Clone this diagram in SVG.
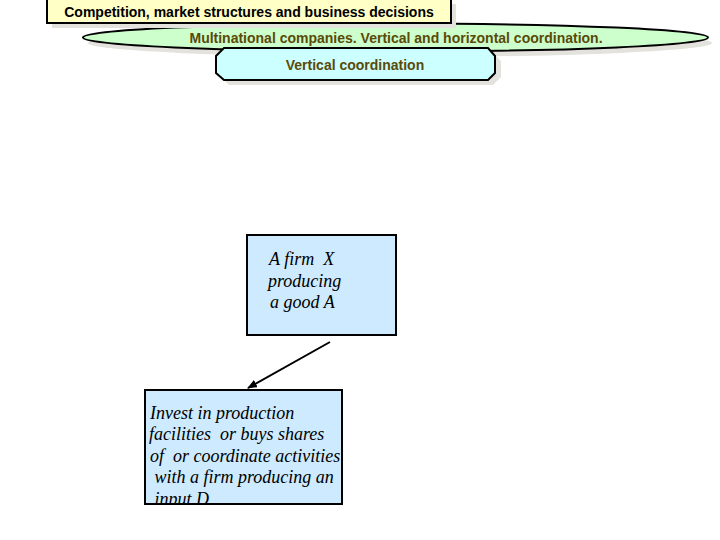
<svg xmlns="http://www.w3.org/2000/svg" width="720" height="540" viewBox="0 0 720 540">
<style>
.shadow{fill:#e4e2dc;stroke:none}
.hdr{font-family:"Liberation Sans",Arial,sans-serif;font-size:14px;font-weight:bold;text-anchor:middle}
.olive{fill:#5a4a08}
.box{fill:#cdeaff;stroke:#000;stroke-width:2}
.it{font-family:"Liberation Serif","Times New Roman",serif;font-style:italic;font-size:18px;fill:#000;white-space:pre}
.conn{stroke:#000;stroke-width:2;fill:none}
</style>
<defs>
<marker id="ah" markerWidth="10" markerHeight="8" refX="9" refY="4" orient="auto" markerUnits="userSpaceOnUse">
<path d="M0,0 L10,4 L0,8 z" fill="#000"/>
</marker>
<clipPath id="clipD"><rect x="145" y="390" width="197" height="114"/></clipPath>
</defs>
<rect width="720" height="540" fill="#fff"/>
<g id="ellipse-node">
<ellipse class="shadow" cx="400" cy="43" rx="312" ry="14"/>
<ellipse cx="395.5" cy="37.5" rx="312.5" ry="14" fill="#ccffcc" stroke="#000" stroke-width="2"/>
<text class="hdr olive" x="396" y="43">Multinational companies. Vertical and horizontal coordination.</text>
</g>
<g id="title-node">
<rect class="shadow" x="52" y="4" width="404" height="24"/>
<rect x="47" y="-1" width="404" height="24" fill="#ffffc6" stroke="#000" stroke-width="2"/>
<text class="hdr" x="249" y="17" fill="#000">Competition, market structures and business decisions</text>
</g>
<g id="octagon-node">
<path class="shadow" d="M229,53 L493,53 L501,61 L501,77 L493,85 L229,85 L221,77 L221,61 z"/>
<path d="M224,48 L488,48 L495,56 L495,73 L488,80 L224,80 L216,73 L216,56 z" fill="#ccffff" stroke="#000" stroke-width="2"/>
<text class="hdr olive" x="355" y="70">Vertical coordination</text>
</g>
<g id="node-A">
<rect class="box" x="247" y="235" width="149" height="100"/>
<text class="it"><tspan x="269" y="265">A firm  X</tspan><tspan x="268" y="287">producing</tspan><tspan x="270" y="308">a good A</tspan></text>
</g>
<g id="node-D">
<rect x="145" y="390" width="197" height="114" fill="#cdeaff"/>
<text class="it" clip-path="url(#clipD)"><tspan x="150" y="419">Invest in production</tspan><tspan x="149" y="440">facilities  or buys shares</tspan><tspan x="150" y="462">of  or coordinate activities</tspan><tspan x="150" y="483"> with a firm producing an</tspan><tspan x="150" y="505"> input D</tspan></text>
<rect x="145" y="390" width="197" height="114" fill="none" stroke="#000" stroke-width="2"/>
</g>
<g id="connectors">
<line class="conn" x1="330" y1="342" x2="248" y2="388" marker-end="url(#ah)"/>
</g>
</svg>
